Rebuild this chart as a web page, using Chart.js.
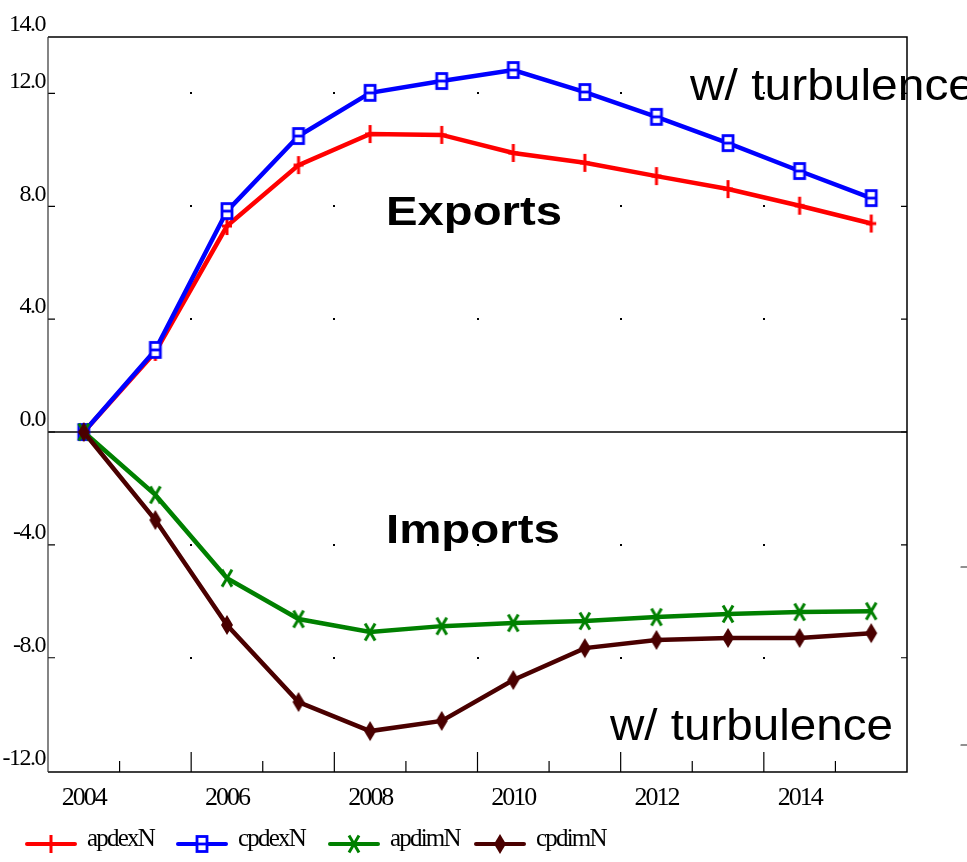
<!DOCTYPE html>
<html>
<head>
<meta charset="utf-8">
<script src="https://cdn.jsdelivr.net/npm/chart.js@4.4.1/dist/chart.umd.min.js"></script>
<style>
  html, body { margin: 0; padding: 0; background: #fff; }
  #wrap { width: 967px; height: 862px; }
</style>
</head>
<body>
<div id="wrap"><canvas id="myChart" width="967" height="862"></canvas></div>
<script>
// values
var years   = [2004, 2005, 2006, 2007, 2008, 2009, 2010, 2011, 2012, 2013, 2014, 2015];
var apdexN  = [0, 2.84, 7.30, 9.46, 10.56, 10.53, 9.89, 9.54, 9.07, 8.61, 8.02, 7.39];
var cpdexN  = [0, 2.91, 7.83, 10.49, 12.02, 12.44, 12.83, 12.05, 11.17, 10.24, 9.25, 8.29];
var apdimN  = [0, -2.23, -5.18, -6.63, -7.09, -6.88, -6.77, -6.70, -6.56, -6.45, -6.38, -6.35];
var cpdimN  = [0, -3.12, -6.84, -9.57, -10.60, -10.24, -8.79, -7.66, -7.37, -7.30, -7.30, -7.13];

var seriesNames = ['apdexN', 'cpdexN', 'apdimN', 'cpdimN'];
var yTicks = [14, 12, 8, 4, 0, -4, -8, -12];
var xTicks = [2004, 2006, 2008, 2010, 2012, 2014];
var xLongTicks  = [2005.5, 2007.5, 2009.5, 2011.5, 2013.5];
var xShortTicks = [2004.5, 2006.5, 2008.5, 2010.5, 2012.5, 2014.5];
var sideTicks = [12, 8, 4, -4, -8];

function makeMarker(kind, color) {
    var c = document.createElement('canvas');
    c.width = 20; c.height = 24;
    var g = c.getContext('2d');
    g.translate(10, 12);
    g.strokeStyle = color;
    g.fillStyle = color;
    g.lineWidth = 3;
    if (kind == 'plus') {
        g.beginPath();
        g.moveTo(0, -9); g.lineTo(0, 9);
        g.moveTo(-5, 0); g.lineTo(5, 0);
        g.stroke();
    } else if (kind == 'box') {
        g.fillStyle = '#fff';
        g.fillRect(-5, -7.5, 10, 15);
        g.lineWidth = 2.8;
        g.strokeRect(-5, -7.5, 10, 15);
        g.beginPath(); g.moveTo(-5, 0); g.lineTo(5, 0); g.stroke();
    } else if (kind == 'x') {
        g.beginPath();
        g.moveTo(-5, -8.5); g.lineTo(5, 8.5);
        g.moveTo(5, -8.5); g.lineTo(-5, 8.5);
        g.stroke();
    } else {
        g.beginPath();
        g.moveTo(0, -10); g.lineTo(6, 0); g.lineTo(0, 10); g.lineTo(-6, 0);
        g.closePath(); g.fill();
    }
    return c;
}

var colors = ['#ff0000', '#0000ff', '#008000', '#4a0000'];
var markers = [
    makeMarker('plus', colors[0]),
    makeMarker('box', colors[1]),
    makeMarker('x', colors[2]),
    makeMarker('diamond', colors[3])
];

function toPoints(vals) {
    return vals.map(function(v, i){ return {x: years[i], y: v}; });
}

// letter spacing for the serif tick labels
var spacing = {
    id: 'spacing',
    beforeDraw: function(chart) {
        [['x', '-2px'], ['y', '-1.5px']].forEach(function(p){
            var s = chart.scales[p[0]];
            if (s && !s._spaced) {
                var orig = s.drawLabels;
                s.drawLabels = function(area) {
                    var c = this.ctx;
                    c.save();
                    c.letterSpacing = p[1];
                    orig.call(this, area);
                    c.restore();
                };
                s._spaced = true;
            }
        });
    }
};

var frame = {
    id: 'frame',
    beforeDatasetsDraw: function(chart) {
        var ctx = chart.ctx, a = chart.chartArea;
        var xs = chart.scales.x, ys = chart.scales.y;
        ctx.save();
        ctx.strokeStyle = '#000';
        ctx.fillStyle = '#000';
        // zero line
        var y0 = ys.getPixelForValue(0);
        ctx.lineWidth = 1.5;
        ctx.beginPath(); ctx.moveTo(a.left, y0); ctx.lineTo(a.right, y0); ctx.stroke();
        // side ticks
        ctx.lineWidth = 1.2;
        sideTicks.concat([0]).forEach(function(v){
            var y = ys.getPixelForValue(v);
            ctx.beginPath();
            ctx.moveTo(a.left, y); ctx.lineTo(a.left + 7, y);
            ctx.moveTo(a.right, y); ctx.lineTo(a.right - 6, y);
            ctx.stroke();
        });
        // bottom ticks
        xLongTicks.forEach(function(v){
            var x = xs.getPixelForValue(v);
            ctx.beginPath(); ctx.moveTo(x, a.bottom); ctx.lineTo(x, a.bottom - 20); ctx.stroke();
        });
        xShortTicks.forEach(function(v){
            var x = xs.getPixelForValue(v);
            ctx.beginPath(); ctx.moveTo(x, a.bottom); ctx.lineTo(x, a.bottom - 11); ctx.stroke();
        });
        // grid dots
        xLongTicks.forEach(function(xv){
            sideTicks.forEach(function(yv){
                ctx.fillRect(Math.round(xs.getPixelForValue(xv)) - 1, Math.round(ys.getPixelForValue(yv)) - 1, 2, 2);
            });
        });
        ctx.restore();
    },
    afterDatasetsDraw: function(chart) {
        var ctx = chart.ctx, a = chart.chartArea;
        ctx.save();
        ctx.fillStyle = '#000';
        ctx.textBaseline = 'alphabetic';
        function stretched(text, font, x, y, w) {
            ctx.font = font;
            var nat = ctx.measureText(text).width;
            ctx.save();
            ctx.translate(x, y);
            ctx.scale(w / nat, 1);
            ctx.fillText(text, 0, 0);
            ctx.restore();
        }
        stretched('Exports', 'bold 40px "Liberation Sans", Arial, sans-serif', 386, 225, 176);
        stretched('Imports', 'bold 40px "Liberation Sans", Arial, sans-serif', 386, 543, 174);
        stretched('w/ turbulence', '45px "Liberation Sans", Arial, sans-serif', 690, 100, 285);
        stretched('w/ turbulence', '45px "Liberation Sans", Arial, sans-serif', 610, 740, 283);

        // frame
        ctx.strokeStyle = '#000';
        ctx.lineWidth = 1.5;
        ctx.beginPath();
        ctx.moveTo(a.left, a.bottom); ctx.lineTo(a.right, a.bottom);
        ctx.lineTo(a.right, a.top); ctx.lineTo(a.left, a.top);
        ctx.stroke();
        ctx.strokeStyle = '#333';
        ctx.lineWidth = 1.2;
        ctx.beginPath(); ctx.moveTo(a.left, a.top); ctx.lineTo(a.left, a.bottom); ctx.stroke();
        ctx.restore();
    },
    afterDraw: function(chart) {
        var ctx = chart.ctx;
        var legendX = [27, 178, 330, 476];
        var ly = 844;
        ctx.save();
        chart.data.datasets.forEach(function(ds, i){
            var x = legendX[i];
            ctx.strokeStyle = ds.borderColor;
            ctx.lineWidth = 4;
            ctx.lineCap = 'round';
            ctx.beginPath(); ctx.moveTo(x, ly); ctx.lineTo(x + 48, ly); ctx.stroke();
            ctx.drawImage(ds.pointStyle, x + 24 - 10, ly - 12);
            ctx.fillStyle = '#000';
            ctx.font = '25px "Liberation Serif", "Times New Roman", serif';
            ctx.letterSpacing = '-1.8px';
            ctx.textBaseline = 'alphabetic';
            ctx.fillText(ds.label, x + 60, ly + 2);
            ctx.letterSpacing = '0px';
        });
        // clipped bits of the neighbouring panel
        ctx.strokeStyle = '#222';
        ctx.lineWidth = 1.2;
        [567, 745].forEach(function(y){
            ctx.beginPath(); ctx.moveTo(961, y); ctx.lineTo(967, y); ctx.stroke();
        });
        ctx.restore();
    }
};

var ctx = document.getElementById("myChart").getContext('2d');
var myChart = new Chart(ctx, {
    type: 'line',
    data: {
        datasets: [apdexN, cpdexN, apdimN, cpdimN].map(function(vals, i){
            return {
                label: seriesNames[i],
                data: toPoints(vals),
                borderColor: colors[i],
                backgroundColor: colors[i],
                borderWidth: 4.5,
                pointStyle: markers[i],
                pointRadius: 6,
                tension: 0,
                fill: false,
                clip: false,
                order: 4 - i
            };
        })
    },
    options: {
        responsive: false,
        devicePixelRatio: 1,
        animation: false,
        events: [],
        layout: { padding: { top: 37, right: 60, left: 0, bottom: 0 } },
        plugins: {
            legend: { display: false },
            tooltip: { enabled: false }
        },
        scales: {
            x: {
                type: 'linear',
                min: 2003.5,
                max: 2015.5,
                grid: { display: false, drawTicks: false },
                border: { display: false },
                afterBuildTicks: function(s){ s.ticks = xTicks.map(function(v){ return {value: v}; }); },
                afterFit: function(s){ s.height = 90; },
                ticks: {
                    autoSkip: false,
                    maxRotation: 0,
                    padding: 11,
                    color: '#000',
                    font: { family: '"Liberation Serif", "Times New Roman", serif', size: 26 },
                    callback: function(v){ return String(v); }
                }
            },
            y: {
                min: -12.05,
                max: 14,
                grid: { display: false, drawTicks: false },
                border: { display: false },
                afterBuildTicks: function(s){ s.ticks = yTicks.map(function(v){ return {value: v}; }); },
                afterFit: function(s){ s.width = 48; },
                ticks: {
                    padding: 3,
                    labelOffset: -12,
                    color: '#000',
                    font: { family: '"Liberation Serif", "Times New Roman", serif', size: 24 },
                    callback: function(v){ return v.toFixed(1); }
                }
            }
        }
    },
    plugins: [spacing, frame]
});
</script>
</body>
</html>
